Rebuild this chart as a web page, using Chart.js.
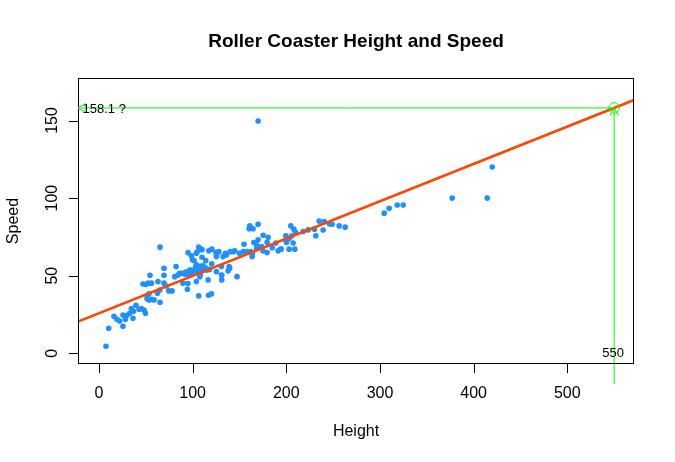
<!DOCTYPE html>
<html>
<head>
<meta charset="utf-8">
<script src="https://cdn.jsdelivr.net/npm/chart.js@4.4.1/dist/chart.umd.min.js"></script>
<style>
  body { margin: 0; background: #fff; }
  #chart { display: block; }
</style>
</head>
<body>
<canvas id="chart" width="675" height="462"></canvas>
<script>
// 过山车高度 (Height) 与速度 (Speed)
var heights = [
  7.5, 10.4, 16, 19.2, 22.1, 25.6, 25.6, 28.2, 29.9, 32.8,
  34.6, 36.3, 36.8, 39.5, 42.7, 45.3, 48.1, 49.6, 51.3, 53.4,
  56, 58.8, 51.3, 53.4, 47, 49.9, 52.4, 56, 54.5, 65.2,
  62.4, 64.9, 63, 69.4, 69.4, 65.2, 69.4, 72, 74.5, 78,
  80.9, 82.3, 84.4, 88.7, 89.7, 94.4, 92.6, 95.1, 98.7, 101.5,
  96.9, 104, 106.5, 106.5, 108.6, 110, 116.9, 120.1, 116.5, 131.1,
  131.1, 147.4, 137.8, 138.9, 120.4, 114, 104.7, 110, 117.2, 120.4,
  125, 128, 125.4, 132.5, 135, 143.2, 150, 154, 158, 154.9,
  161, 160.3, 164.5, 169.9, 165.3, 169.9, 163.9, 163.5, 168.2, 173.5,
  175.2, 180.6, 179.5, 179.5, 188.8, 191.3, 194.1, 203, 209.1, 199.5,
  199.5, 204.8, 208, 207.3, 206, 218, 223.3, 230, 231.5, 235,
  239.3, 240.5, 245.9, 256.4, 262.8, 248.9, 419.9, 377.1, 414.5, 304.5,
  309.8, 318.4, 324.8, 169.9, 86.2, 99.8, 104, 104, 125.4, 136,
  140, 145, 162, 168.2, 107.6, 130.8, 139.6, 125.4, 130.8, 100,
  102, 104, 106, 108, 110, 112, 114, 103, 107, 111,
  96, 98, 92, 115, 118, 108, 200.2, 203, 210, 194.4,
  185, 175, 95
]
var speeds = [
  4.5, 16.1, 23.9, 21.9, 20.8, 17.4, 24.7, 21.9, 24.5, 25.8,
  28.8, 22.6, 27.1, 31, 28.4, 28.8, 27.9, 25.8, 35.2, 34.4,
  34.8, 34.4, 37.4, 38.3, 44.7, 44.3, 45.2, 45.2, 50.3, 32.9,
  38.7, 40.8, 46.2, 50.3, 54.8, 68.4, 45.2, 43.4, 40.2, 40.2,
  49.4, 55.9, 50.5, 51.6, 45.2, 41.3, 52.3, 64.9, 62.8, 59.7,
  53.7, 46.2, 37, 68.4, 67.1, 61.9, 37.4, 38.3, 47.3, 47.3,
  50.3, 49.4, 53.1, 55.9, 57.6, 59.7, 65.2, 66.8, 66, 67.1,
  65, 65.5, 62.3, 62.3, 64.5, 65.5, 64.5, 65.5, 65.5, 70.3,
  82.1, 80.2, 80.2, 83.2, 71.4, 73.1, 64.5, 62.3, 67.7, 68.8,
  76.1, 74.8, 71.6, 64.9, 71, 66, 67.1, 67.1, 67.1, 75.7,
  72.8, 82.1, 80, 71, 75.7, 78.5, 79.5, 80, 75.7, 85.2,
  79.4, 84.9, 83.4, 82.1, 81.3, 83.2, 120, 100, 100, 90.3,
  93.5, 95.5, 95.5, 149.7, 51.6, 60.2, 57, 64.5, 63.4, 63.4,
  65.5, 66, 65.5, 69.9, 49.4, 50.5, 54.8, 52.6, 55.9, 52,
  53, 54, 52.5, 54, 53, 54.5, 55, 55.5, 56, 56.5,
  51, 53.5, 51, 53.5, 54, 50.5, 71.4, 74, 78, 67.1,
  68, 66, 45
]
var xTicks = [0, 100, 200, 300, 400, 500]
var yTicks = [0, 50, 100, 150]
// 回归线系数
var fitIntercept = 25.8
var fitSlope = 0.2406
// 预测点
var predHeight = 550
var predSpeed = 158.1
var predText = '158.1 ?'
var xMin = -22.4, xMax = 571.2
var yMin = -6.9, yMax = 177.4
var arrowBottom = -20

var font = '"Liberation Sans", Arial, sans-serif'

var points = heights.map(function (h, i) {
    return { x: h, y: speeds[i] }
})
var fitLine = [xMin, xMax].map(function (x) {
    return { x: x, y: fitIntercept + fitSlope * x }
})

// R 风格坐标轴、标题、箭头
var rAxes = {
    id: 'rAxes',
    afterDraw: function (chart) {
        var ctx = chart.ctx
        var a = chart.chartArea
        var sx = chart.scales.x
        var sy = chart.scales.y
        ctx.save()
        ctx.strokeStyle = '#000'
        ctx.fillStyle = '#000'
        ctx.lineWidth = 1
        var L = Math.round(a.left) + 0.5, R = Math.round(a.right) - 0.5
        var T = Math.round(a.top) + 0.5, B = Math.round(a.bottom) - 0.5
        ctx.strokeRect(L, T, R - L, B - T)

        ctx.font = '16px ' + font
        ctx.textAlign = 'center'
        ctx.textBaseline = 'alphabetic'
        ctx.beginPath()
        xTicks.forEach(function (v) {
            var px = Math.round(sx.getPixelForValue(v)) + 0.5
            ctx.moveTo(px, B)
            ctx.lineTo(px, B + 9.6)
        })
        yTicks.forEach(function (v) {
            var py = Math.round(sy.getPixelForValue(v)) + 0.5
            ctx.moveTo(L, py)
            ctx.lineTo(L - 9.6, py)
        })
        ctx.stroke()
        xTicks.forEach(function (v) {
            ctx.fillText(String(v), sx.getPixelForValue(v), 398)
        })
        yTicks.forEach(function (v) {
            ctx.save()
            ctx.translate(57, sy.getPixelForValue(v))
            ctx.rotate(-Math.PI / 2)
            ctx.fillText(String(v), 0, 0)
            ctx.restore()
        })

        var cx = (a.left + a.right) / 2
        ctx.fillText('Height', cx, 436)
        ctx.save()
        ctx.translate(18, (a.top + a.bottom) / 2)
        ctx.rotate(-Math.PI / 2)
        ctx.fillText('Speed', 0, 0)
        ctx.restore()

        ctx.font = 'bold 19px ' + font
        ctx.fillText('Roller Coaster Height and Speed', cx, 46.5)

        // 箭头
        var tx = sx.getPixelForValue(predHeight)
        var ty = sy.getPixelForValue(predSpeed)
        var lx = sx.getPixelForValue(xMin)
        ctx.strokeStyle = '#00ff00'
        ctx.beginPath()
        ctx.moveTo(lx + 7.8, ty - 4.5)
        ctx.lineTo(lx, ty)
        ctx.lineTo(lx + 7.8, ty + 4.5)
        ctx.moveTo(tx - 4.5, ty + 7.8)
        ctx.lineTo(tx, ty)
        ctx.lineTo(tx + 4.5, ty + 7.8)
        ctx.stroke()

        ctx.fillStyle = '#000'
        ctx.font = '13px ' + font
        ctx.textAlign = 'left'
        ctx.textBaseline = 'middle'
        ctx.fillText(predText, lx + 4.5, ty + 1.5)
        ctx.textAlign = 'center'
        ctx.textBaseline = 'alphabetic'
        ctx.fillText(String(predHeight), tx - 1, 356.5)
        ctx.restore()
    }
}

var ctx = document.getElementById('chart').getContext('2d')
var chart = new Chart(ctx, {
    type: 'scatter',
    data: {
        datasets: [
            {
                type: 'line',
                data: [{ x: predHeight, y: predSpeed }, { x: xMin, y: predSpeed }],
                borderColor: '#00ff00',
                borderWidth: 1,
                pointRadius: 0,
                fill: false,
                order: 0
            },
            {
                type: 'line',
                data: [{ x: predHeight, y: arrowBottom }, { x: predHeight, y: predSpeed }],
                borderColor: '#00ff00',
                borderWidth: 1,
                pointRadius: 0,
                fill: false,
                clip: false,
                order: 0
            },
            {
                data: [{ x: predHeight, y: predSpeed }],
                pointRadius: 5.3,
                pointBorderWidth: 1,
                pointBorderColor: '#00ff00',
                pointBackgroundColor: 'rgba(0,0,0,0)',
                order: 0
            },
            {
                type: 'line',
                data: fitLine,
                borderColor: '#ff4500',
                borderWidth: 2.6,
                pointRadius: 0,
                fill: false,
                order: 1
            },
            {
                data: points,
                pointRadius: 2.8,
                pointBorderWidth: 0,
                pointBackgroundColor: '#1e90ff',
                order: 2
            }
        ]
    },
    options: {
        responsive: false,
        animation: false,
        devicePixelRatio: 1,
        layout: { padding: { left: 78, right: 41, top: 78, bottom: 98 } },
        plugins: {
            legend: { display: false },
            tooltip: { enabled: false },
            title: { display: false }
        },
        scales: {
            x: { type: 'linear', min: xMin, max: xMax, display: false },
            y: { type: 'linear', min: yMin, max: yMax, display: false }
        }
    },
    plugins: [rAxes]
})
</script>
</body>
</html>
